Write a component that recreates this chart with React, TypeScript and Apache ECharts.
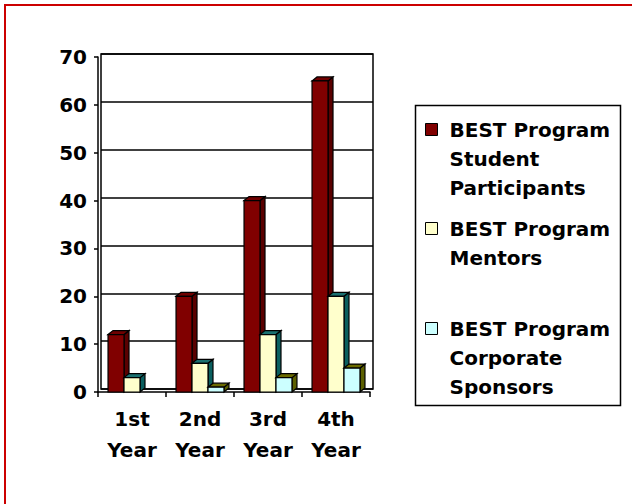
import React, { useEffect, useRef } from 'react';
import * as echarts from 'echarts';

const categories = ['1st\nYear', '2nd\nYear', '3rd\nYear', '4th\nYear'];
const studentParticipants = [12, 20, 40, 65];
const mentors = [3, 6, 12, 20];
const corporateSponsors = [0, 1, 3, 5];
const seriesNames = [
  'BEST Program\nStudent\nParticipants',
  'BEST Program\nMentors',
  'BEST Program\nCorporate\nSponsors',
];
const yMin = 0;
const yMax = 70;
const yInterval = 10;

const FONT = 'DejaVu Sans';
const frontColors = ['#800000', '#FFFFCC', '#CCFFFF'];
const topColors = ['#700000', '#1a7070', '#6b6b00'];
const sideColors = ['#5a0000', '#0a5f5f', '#5c6000'];

function makeRender(s: number) {
  return (params: any, api: any) => {
    const v = api.value(1);
    if (!v) return { type: 'group', children: [] };
    const base = api.coord([api.value(0), 0]);
    const peak = api.coord([api.value(0), v]);
    const catW = api.size([1, 0])[0];
    const bw = catW * 0.235;
    const x0 = base[0] - 1.5 * bw + s * bw;
    const x1 = x0 + bw;
    const dx = 5;
    const dy = 4;
    const stroke = { stroke: '#000', lineWidth: 1.2 };
    return {
      type: 'group',
      children: [
        {
          type: 'polygon',
          shape: { points: [[x1, peak[1]], [x1 + dx, peak[1] - dy], [x1 + dx, base[1] - dy], [x1, base[1]]] },
          style: { fill: sideColors[s], ...stroke },
        },
        {
          type: 'polygon',
          shape: { points: [[x0, peak[1]], [x0 + dx, peak[1] - dy], [x1 + dx, peak[1] - dy], [x1, peak[1]]] },
          style: { fill: topColors[s], ...stroke },
        },
        {
          type: 'rect',
          shape: { x: x0, y: peak[1], width: bw, height: base[1] - peak[1] },
          style: { fill: frontColors[s], ...stroke },
        },
      ],
    };
  };
}

// legend layout: line height 29, icon aligned with the first line of each name
const LINE_H = 29;
const legendFirstLineCenters = [129, 228, 328];

function legendIcon(lines: number) {
  const h = lines * LINE_H;
  const t = LINE_H / 2 - 6;
  return `path://M0,0L0,0M19,0L19,0M0,${t}H12V${t + 12}H0ZM0,${h}L0,${h}`;
}

export default function App() {
  const ref = useRef<HTMLDivElement>(null);
  useEffect(() => {
    if (!ref.current) return;
    const chart = echarts.init(ref.current, undefined, { renderer: 'svg' });
    const allSeries = [studentParticipants, mentors, corporateSponsors];
    const labelStyle = { fontFamily: FONT, fontWeight: 'bold' as const, fontSize: 20, color: '#000' };
    chart.setOption({
      animation: false,
      backgroundColor: '#fff',
      grid: [
        { left: 98, top: 57, width: 272, height: 335 },
        { left: 101, top: 54, width: 272, height: 335, show: true, borderColor: '#000', borderWidth: 1.5, backgroundColor: 'transparent' },
      ],
      xAxis: [
        {
          type: 'category',
          gridIndex: 0,
          data: categories,
          axisLine: { lineStyle: { color: '#000', width: 1.5 } },
          axisTick: { show: true, length: 5, lineStyle: { color: '#000', width: 1.5 } },
          axisLabel: { ...labelStyle, lineHeight: 31, margin: 11 },
          splitLine: { show: false },
        },
        { type: 'category', gridIndex: 1, data: categories, show: false },
      ],
      yAxis: [
        {
          type: 'value',
          gridIndex: 0,
          min: yMin,
          max: yMax,
          interval: yInterval,
          axisLine: { show: true, lineStyle: { color: '#000', width: 1.5 } },
          axisTick: { show: true, length: 4, lineStyle: { color: '#000', width: 1.5 } },
          axisLabel: { ...labelStyle, margin: 11 },
          splitLine: { show: false },
        },
        {
          type: 'value',
          gridIndex: 1,
          min: yMin,
          max: yMax,
          interval: yInterval,
          axisLine: { show: false },
          axisTick: { show: false },
          axisLabel: { show: false },
          splitLine: { show: true, lineStyle: { color: '#000', width: 1.5 } },
        },
      ],
      legend: seriesNames.map((name, i) => {
        const lines = name.split('\n').length;
        return {
          show: true,
          left: 425,
          top: legendFirstLineCenters[i] - LINE_H / 2,
          orient: 'vertical',
          padding: 0,
          itemWidth: 19,
          itemHeight: lines * LINE_H,
          selectedMode: false,
          data: [
            {
              name,
              icon: legendIcon(lines),
              itemStyle: { color: frontColors[i], borderColor: '#000', borderWidth: 1 },
            },
          ],
          textStyle: { ...labelStyle, lineHeight: LINE_H },
        };
      }),
      graphic: [
        {
          type: 'rect',
          z: -10,
          shape: { x: 5, y: 5, width: 700, height: 600 },
          style: { fill: 'none', stroke: '#cc0000', lineWidth: 2 },
        },
        {
          type: 'rect',
          shape: { x: 415.5, y: 105.5, width: 205, height: 300 },
          style: { fill: 'none', stroke: '#000', lineWidth: 1.5 },
        },
      ],
      series: allSeries.map((vals, s) => ({
        type: 'custom',
        name: seriesNames[s],
        xAxisIndex: 0,
        yAxisIndex: 0,
        itemStyle: { color: frontColors[s], borderColor: '#000', borderWidth: 1 },
        encode: { x: 0, y: 1 },
        data: vals.map((v, i) => [i, v]),
        renderItem: makeRender(s),
      })),
    });
    return () => chart.dispose();
  }, []);
  return <div ref={ref} style={{ position: 'fixed', left: 0, top: 0, width: 632, height: 504 }} />;
}
